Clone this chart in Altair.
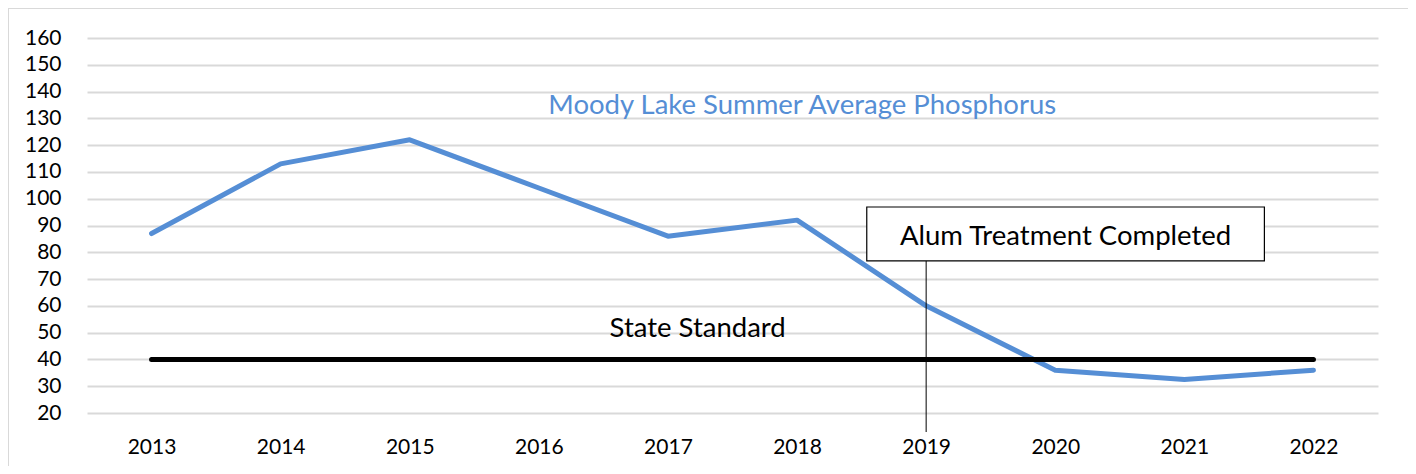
import altair as alt
import pandas as pd

# ---- data ----
years = [2013, 2014, 2015, 2016, 2017, 2018, 2019, 2020, 2021, 2022]
phosphorus = [87, 113, 122, 104, 86, 92, 60, 36, 32.5, 36]
state_standard = 40
y_ticks = [20, 30, 40, 50, 60, 70, 80, 90, 100, 110, 120, 130, 140, 150, 160]

title_text = "Moody Lake Summer Average Phosphorus"
standard_text = "State Standard"
alum_text = "Alum Treatment Completed"
alum_year = 2019

FONT = "Lato"
BLUE = "#558ED5"
GRID = "#D9D9D9"

W, H = 1291, 375

df = pd.DataFrame({"year": years, "p": phosphorus})
std_df = pd.DataFrame({"year": [years[0], years[-1]], "p": [state_standard, state_standard]})

xscale = alt.Scale(domain=[2012.5, 2022.5], nice=False, zero=False)
yscale = alt.Scale(domain=[20, 160], nice=False, zero=False)

xaxis = alt.Axis(values=years, format="d", title=None, grid=False, domain=False, ticks=False,
                 labelFont=FONT, labelFontSize=21, labelColor="#000000", labelPadding=23,
                 labelOverlap=False)
yaxis = alt.Axis(values=y_ticks, title=None, grid=True, gridColor=GRID, gridWidth=2,
                 domain=False, ticks=False, labelFont=FONT, labelFontSize=21,
                 labelColor="#000000", labelPadding=26, labelOverlap=False)


def X(field):
    return alt.X(field, type="quantitative", scale=xscale, axis=xaxis)


def Y(field):
    return alt.Y(field, type="quantitative", scale=yscale, axis=yaxis)


frame = alt.Chart(pd.DataFrame({"k": [0]})).mark_rect(
    fill="transparent", stroke=GRID, strokeWidth=2
).encode(x=alt.value(-79), x2=alt.value(1322), y=alt.value(-30), y2=alt.value(450))

line = alt.Chart(df).mark_line(color=BLUE, strokeWidth=5, strokeCap="round", strokeJoin="round").encode(
    x=X("year"), y=Y("p"),
)

std = alt.Chart(std_df).mark_line(color="#000000", strokeWidth=5, strokeCap="round").encode(
    x=X("year"), y=Y("p"),
)

connector = alt.Chart(pd.DataFrame({"x": [alum_year], "y": [76.8], "y2": [12.9]})).mark_rule(
    color="#000000", strokeWidth=1
).encode(x=X("x"), y=Y("y"), y2="y2:Q")

box = alt.Chart(pd.DataFrame({"x": [2018.54], "x2": [2021.62], "y": [96.9], "y2": [76.8]})).mark_rect(
    fill="#FFFFFF", stroke="#000000", strokeWidth=1.2
).encode(x=X("x"), x2="x2:Q", y=Y("y"), y2="y2:Q")

texts_df = pd.DataFrame({
    "x": [2018.04, 2017.23, 2020.08],
    "y": [131.6, 48.4, 82.7],
    "t": [title_text, standard_text, alum_text],
    "c": [BLUE, "#000000", "#000000"],
})
texts = alt.Chart(texts_df).mark_text(
    font=FONT, fontSize=27.5, align="center", baseline="alphabetic"
).encode(
    x=X("x"), y=Y("y"), text="t:N",
    color=alt.Color("c:N", scale=None),
)

chart = alt.layer(frame, line, std, connector, box, texts).properties(
    width=W, height=H,
    background="#FFFFFF",
    autosize=alt.AutoSizeParams(type="none"),
    padding={"left": 79, "top": 30, "right": 30, "bottom": 53},
).configure_view(stroke="transparent", strokeWidth=0)

chart.save("out.html", embed_options={"renderer": "svg", "actions": False})
